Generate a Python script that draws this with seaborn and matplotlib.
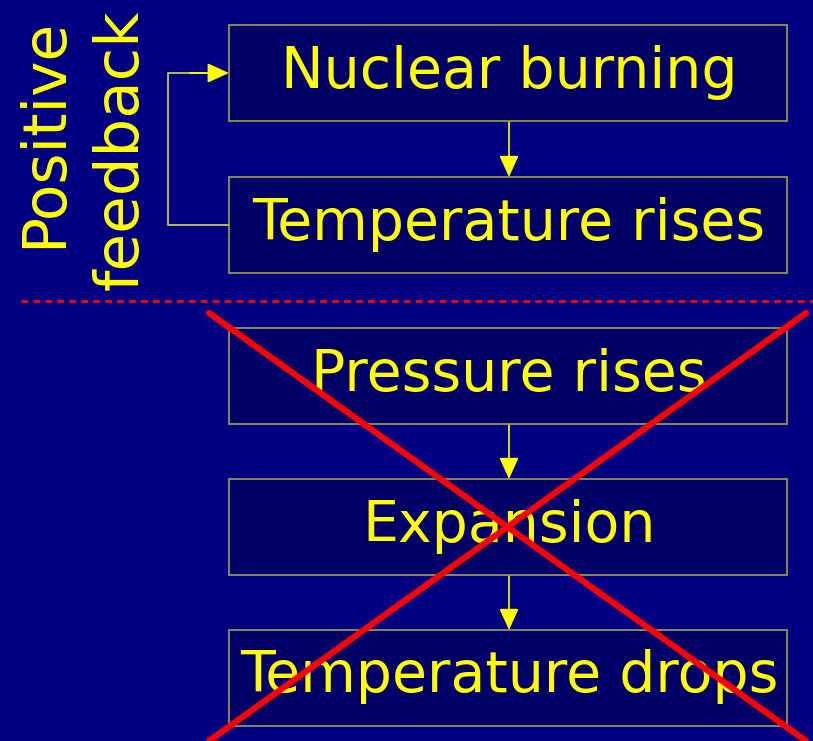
import matplotlib
matplotlib.use("Agg")
import matplotlib.pyplot as plt
import seaborn as sns
import pandas as pd
from matplotlib.patches import Rectangle, FancyArrowPatch

sns.set_style("white")
plt.rcParams['font.family'] = ['DejaVu Sans']

# Data
box_labels = ["Nuclear burning", "Temperature rises", "Pressure rises", "Expansion", "Temperature drops"]
box_tops = [25, 177, 328, 479, 630]
side_labels = ["Positive", "feedback"]

BG = "#000080"
BOX_FILL = "#000066"
BOX_EDGE = "#A0A050"
YEL = "#FFFF00"
RED = "#FF0000"

W, H = 813, 741
fig = plt.figure(figsize=(W / 100, H / 100), dpi=100, facecolor=BG)
ax = fig.add_axes([0, 0, 1, 1])
ax.set_facecolor(BG)

bx0, bx1, bh = 229, 787, 96
for lab, top in zip(box_labels, box_tops):
    ax.add_patch(Rectangle((bx0, top), bx1 - bx0, bh, facecolor=BOX_FILL,
                           edgecolor=BOX_EDGE, lw=1.2, zorder=2))
    ax.text((bx0 + bx1) / 2 + 1, top + bh / 2 - 1, lab, color=YEL, fontsize=41,
            ha="center", va="center", zorder=3)

astyle = "-|>,head_length=1.1,head_width=0.5"
# arrows between boxes (none across the dashed separator)
for i in [0, 2, 3]:
    y0 = box_tops[i] + bh
    y1 = box_tops[i + 1]
    ax.add_patch(FancyArrowPatch((509, y0), (509, y1), arrowstyle=astyle,
                                 mutation_scale=12, color=YEL, lw=1.2, zorder=1,
                                 shrinkA=0, shrinkB=0))

# feedback loop
yb = box_tops[1] + bh / 2
yt = box_tops[0] + bh / 2
ax.plot([bx0, 168, 168, 205], [yb, yb, yt, yt], color="#C8C850", lw=1.3, zorder=1)
ax.add_patch(FancyArrowPatch((190, yt), (bx0, yt), arrowstyle=astyle,
                             mutation_scale=12, color=YEL, lw=1.3, zorder=1,
                             shrinkA=0, shrinkB=0))

# side labels
ax.text(45, 133, side_labels[0], color=YEL, fontsize=43, rotation=90,
        ha="center", va="center")
ax.text(121, 150, side_labels[1], color=YEL, fontsize=44, rotation=90,
        ha="center", va="center")

# dashed separator
ax.plot([21, W], [301, 301], color=RED, lw=2, ls=(0, (2.5, 1.8)), zorder=1)

# red X
xdf = pd.DataFrame({"x": [209, 806, 806, 209], "y": [313, 741, 313, 741], "line": ["a", "a", "b", "b"]})
sns.lineplot(data=xdf, x="x", y="y", units="line", estimator=None, color=RED, lw=4.5,
             ax=ax, zorder=5, sort=False, legend=False)
ax.set_xlim(0, W)
ax.set_ylim(H, 0)
ax.axis("off")

fig.savefig("out.png", dpi=100, facecolor=BG)
